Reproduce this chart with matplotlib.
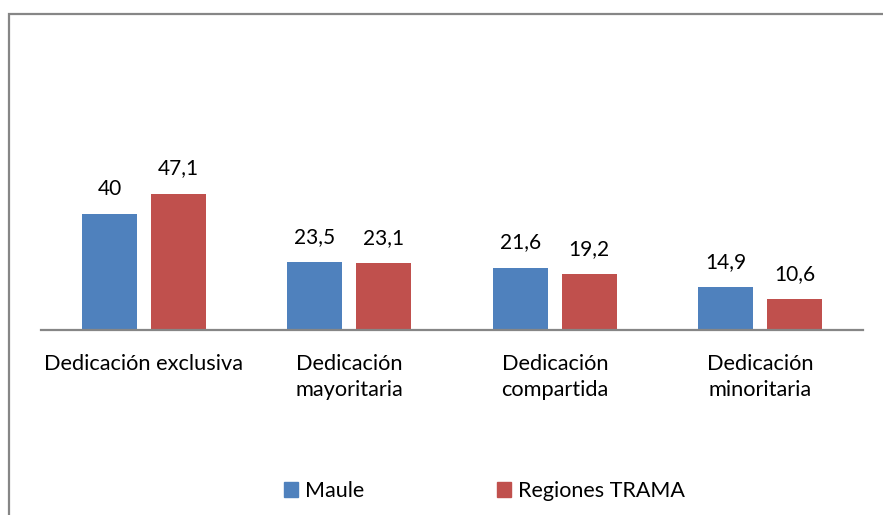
import matplotlib
matplotlib.use("Agg")
import matplotlib.pyplot as plt
from matplotlib.patches import Patch, Rectangle

plt.rcParams['font.family'] = ['Lato', 'DejaVu Sans']

# Data
categories = ['Dedicación exclusiva', 'Dedicación\nmayoritaria',
              'Dedicación\ncompartida', 'Dedicación\nminoritaria']
maule = [40, 23.5, 21.6, 14.9]
trama = [47.1, 23.1, 19.2, 10.6]
series_names = ['Maule', 'Regiones TRAMA']

BLUE = '#4F81BD'
RED = '#C0504D'
W, H = 883, 515

fig = plt.figure(figsize=(W / 100, H / 100), dpi=100)

# outer chart frame (right/bottom edges run off the canvas)
fig.patches.append(Rectangle((8.5 / W, -0.1), 1.2, (H - 13.5) / H + 0.1,
                             transform=fig.transFigure, fill=False,
                             edgecolor='#868686', linewidth=1.6))

ax = fig.add_axes([41 / W, 185 / H, 822 / W, 173.6 / H])
ax.set_xlim(-0.5, 3.5)
ax.set_ylim(0, 60)

x = range(len(categories))
bw = 0.268
off = 0.167
b1 = ax.bar([i - off for i in x], maule, bw, color=BLUE)
b2 = ax.bar([i + off for i in x], trama, bw, color=RED)

def fmt(v):
    return ('%g' % v).replace('.', ',')

for bars, vals in ((b1, maule), (b2, trama)):
    for rect, v in zip(bars, vals):
        ax.annotate(fmt(v), (rect.get_x() + rect.get_width() / 2, v),
                    xytext=(0, 11), textcoords='offset points',
                    ha='center', va='bottom', fontsize=15, color='black')

ax.set_xticks(list(x))
ax.set_xticklabels(categories, fontsize=15.7, linespacing=1.38)
ax.tick_params(axis='x', length=0, pad=17)
ax.set_yticks([])
for side in ('top', 'right', 'left'):
    ax.spines[side].set_visible(False)
ax.spines['bottom'].set_color('#868686')
ax.spines['bottom'].set_linewidth(1.6)

handles = [Patch(color=BLUE), Patch(color=RED)]
fig.legend(handles, series_names, loc='center', ncol=2,
           bbox_to_anchor=(484.5 / W, 1 - 491 / H), frameon=False,
           fontsize=15.5, handlelength=0.65, handleheight=0.65,
           handletextpad=0.3, columnspacing=6.2)

fig.savefig('out.png', dpi=100)
